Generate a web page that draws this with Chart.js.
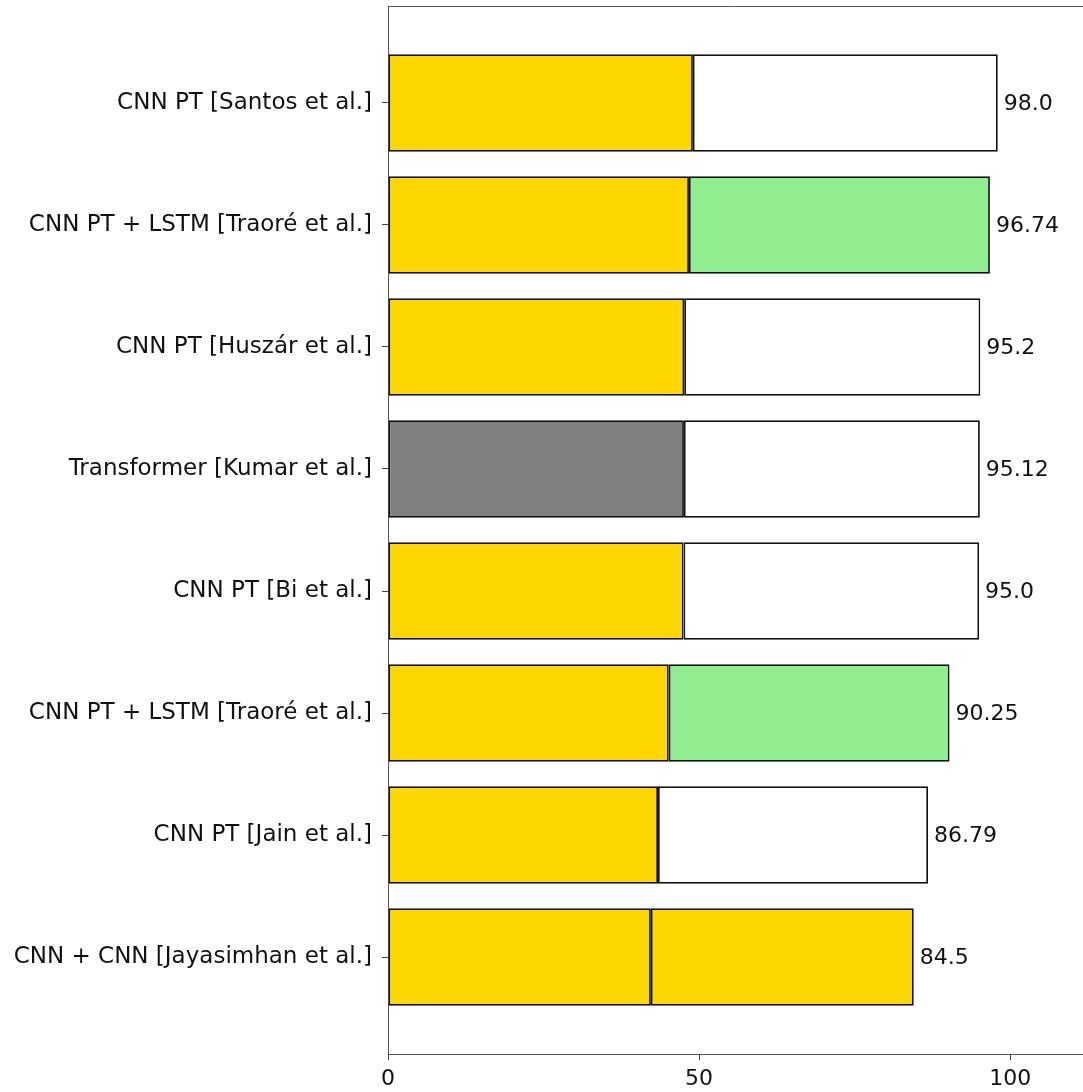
<!DOCTYPE html>
<html>
<head>
<meta charset="utf-8">
<script src="https://cdn.jsdelivr.net/npm/chart.js@4"></script>
<style>
  html, body { margin: 0; padding: 0; background: #fff; overflow: hidden; }
  #wrap { width: 1083px; height: 1092px; }
</style>
</head>
<body>
<div id="wrap"><canvas id="c" width="1083" height="1092"></canvas></div>
<script>
// ---- data ----
const categories = [
  'CNN PT [Santos et al.]',
  'CNN PT + LSTM [Traoré et al.]',
  'CNN PT [Huszár et al.]',
  'Transformer [Kumar et al.]',
  'CNN PT [Bi et al.]',
  'CNN PT + LSTM [Traoré et al.]',
  'CNN PT [Jain et al.]',
  'CNN + CNN [Jayasimhan et al.]'
];
const values = [98.0, 96.74, 95.2, 95.12, 95.0, 90.25, 86.79, 84.5];
const firstColors  = ['#FFD700', '#FFD700', '#FFD700', '#808080', '#FFD700', '#FFD700', '#FFD700', '#FFD700'];
const secondColors = ['#FFFFFF', '#90EE90', '#FFFFFF', '#FFFFFF', '#FFFFFF', '#90EE90', '#FFFFFF', '#FFD700'];
const xTicks = [0, 50, 100];

const FONT = "'DejaVu Sans', sans-serif";

function fmt(v) {
  const s = String(v);
  return s.includes('.') ? s : v.toFixed(1);
}

const firstHalf = values.map((v, i) => ({ x: v / 2, y: i }));
const secondHalf = values.map((v, i) => ({ x: v / 2, y: i }));

const valueLabels = {
  id: 'valueLabels',
  afterDatasetsDraw(chart) {
    const ctx = chart.ctx;
    const meta = chart.getDatasetMeta(1);
    ctx.save();
    ctx.font = '22px ' + FONT;
    ctx.fillStyle = '#111';
    ctx.textAlign = 'left';
    ctx.textBaseline = 'middle';
    meta.data.forEach((el, i) => {
      ctx.fillText(fmt(values[i]), el.x + 6, el.y + 1);
    });
    ctx.restore();
  }
};

const topSpine = {
  id: 'topSpine',
  afterDraw(chart) {
    const { ctx, chartArea } = chart;
    ctx.save();
    ctx.strokeStyle = '#555';
    ctx.lineWidth = 1;
    ctx.beginPath();
    ctx.moveTo(chartArea.left, chartArea.top + 0.5);
    ctx.lineTo(chartArea.right, chartArea.top + 0.5);
    ctx.stroke();
    ctx.restore();
  }
};

new Chart(document.getElementById('c'), {
  type: 'bar',
  data: {
    datasets: [
      {
        data: firstHalf,
        backgroundColor: firstColors,
        borderColor: '#111',
        borderWidth: 1.8,
        borderSkipped: false
      },
      {
        data: secondHalf,
        backgroundColor: secondColors,
        borderColor: '#111',
        borderWidth: 1.8,
        borderSkipped: false
      }
    ]
  },
  options: {
    indexAxis: 'y',
    responsive: false,
    animation: false,
    barPercentage: 0.8,
    categoryPercentage: 1.0,
    layout: { padding: { top: 6, right: 0, bottom: 0, left: 0 } },
    plugins: {
      legend: { display: false },
      tooltip: { enabled: false }
    },
    scales: {
      x: {
        type: 'linear',
        position: 'bottom',
        stacked: true,
        min: 0,
        max: 111.7,
        afterBuildTicks(axis) { axis.ticks = xTicks.map(v => ({ value: v })); },
        afterFit(axis) { axis.height = 38; },
        grid: { drawOnChartArea: false, drawTicks: true, tickLength: 6, tickColor: '#444' },
        border: { display: true, color: '#555', width: 1 },
        ticks: { color: '#111', font: { family: FONT, size: 22 }, padding: 6, maxRotation: 0 }
      },
      y: {
        type: 'linear',
        stacked: true,
        reverse: true,
        offset: false,
        min: -0.795,
        max: 7.795,
        afterBuildTicks(axis) { axis.ticks = categories.map((_, i) => ({ value: i })); },
        afterFit(axis) { axis.width = 388; axis.paddingTop = 0; axis.paddingBottom = 0; },
        grid: { offset: false, drawOnChartArea: false, drawTicks: true, tickLength: 6, tickColor: '#444' },
        border: { display: true, color: '#555', width: 1 },
        ticks: {
          color: '#111',
          font: { family: FONT, size: 23 },
          padding: 10,
          callback: (v) => categories[v] ?? ''
        }
      }
    }
  },
  plugins: [valueLabels, topSpine]
});
</script>
</body>
</html>
